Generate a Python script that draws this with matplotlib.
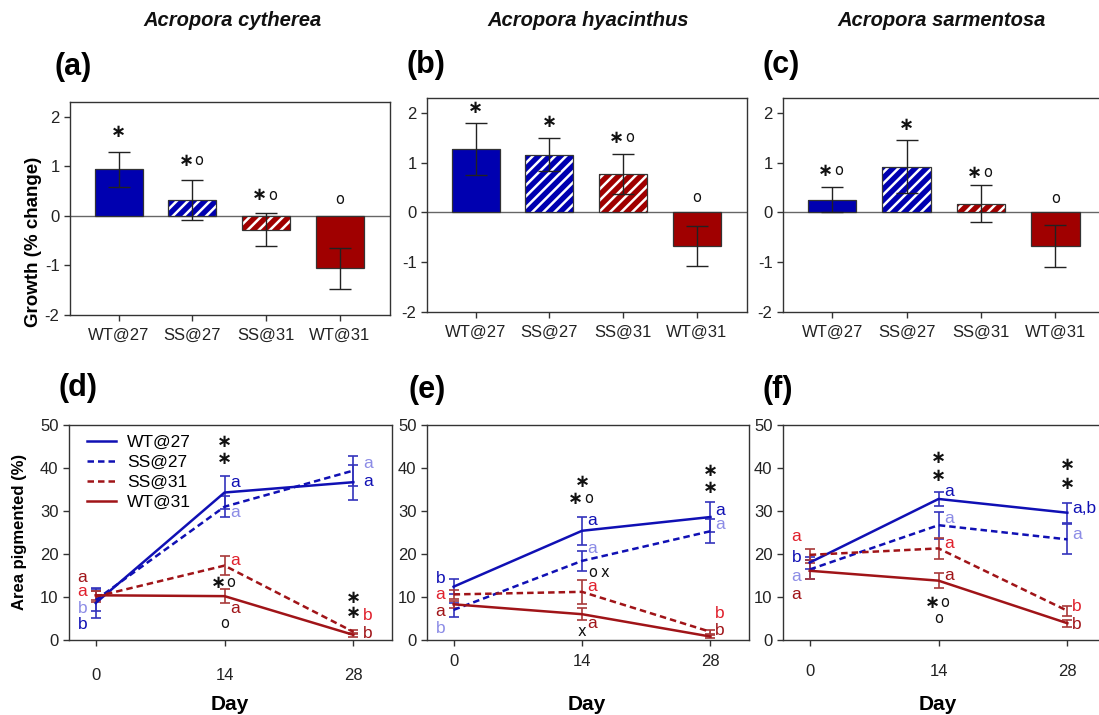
import numpy as np
import matplotlib
matplotlib.use("Agg")
import matplotlib.pyplot as plt

# Data
groups = ["WT@27", "SS@27", "SS@31", "WT@31"]
days = [0, 14, 28]

# growth (% change), mean and error per group
growth_cyt = [0.94, 0.32, -0.28, -1.06]
growth_cyt_err = [0.36, 0.41, 0.33, 0.41]
growth_hya = [1.28, 1.16, 0.77, -0.67]
growth_hya_err = [0.52, 0.33, 0.40, 0.40]
growth_sar = [0.26, 0.92, 0.18, -0.68]
growth_sar_err = [0.26, 0.53, 0.38, 0.42]

growth_cyt_marks = ["∗", "∗o", "∗o", "o"]
growth_cyt_mark_y = [1.70, 1.11, 0.42, 0.34]
growth_hya_marks = ["∗", "∗", "∗o", "o"]
growth_hya_mark_y = [2.10, 1.81, 1.50, 0.31]
growth_sar_marks = ["∗o", "∗", "∗o", "o"]
growth_sar_mark_y = [0.84, 1.76, 0.80, 0.28]

# area pigmented (%) per group (WT@27, SS@27, SS@31, WT@31) over days
cyt_area = [[8.6, 34.3, 36.7], [9.3, 31.0, 39.4], [10.1, 17.3, 1.9], [10.4, 10.2, 1.2]]
cyt_area_err = [[3.4, 3.8, 4.1], [2.5, 2.5, 3.5], [1.3, 2.2, 0.5], [1.0, 1.6, 0.5]]
hya_area = [[12.4, 25.4, 28.6], [7.0, 18.4, 25.3], [10.6, 11.2, 1.9], [8.3, 6.0, 0.8]]
hya_area_err = [[1.8, 3.3, 3.4], [1.6, 2.3, 2.8], [1.0, 2.8, 0.5], [0.8, 1.4, 0.4]]
sar_area = [[18.0, 32.8, 29.6], [16.4, 26.7, 23.4], [19.8, 21.3, 6.8], [16.1, 13.8, 3.9]]
sar_area_err = [[1.4, 1.6, 2.3], [2.2, 3.1, 3.5], [1.3, 2.4, 1.2], [1.8, 1.7, 0.8]]

# significance letters and where they sit
cyt_letters = [["b", "a", "a"], ["b", "a", "a"], ["a", "a", "b"], ["a", "a", "b"]]
cyt_letter_y = [[3.5, 36.6, 36.8], [7.4, 29.6, 41.0], [11.2, 18.4, 5.8], [14.6, 7.4, 1.5]]
hya_letters = [["b", "a", "a"], ["b", "a", "a"], ["a", "a", "b"], ["a", "a", "b"]]
hya_letter_y = [[14.3, 27.8, 30.1], [2.7, 21.2, 26.9], [10.5, 12.4, 6.2], [6.6, 3.9, 2.2]]
sar_letters = [["b", "a", "a,b"], ["a", "a", "a"], ["a", "a", "b"], ["a", "a", "b"]]
sar_letter_y = [[19.2, 34.5, 30.6], [14.7, 28.3, 24.6], [24.0, 22.5, 7.8], [10.6, 15.1, 3.5]]

# other marks on the line panels
cyt_marks = ["∗", "∗", "∗o", "o", "∗", "∗"]
cyt_mark_day = [14, 14, 14, 14, 28, 28]
cyt_mark_y = [46.0, 42.0, 13.3, 3.9, 9.8, 6.2]
hya_marks = ["∗", "∗o", "ox", "x", "∗", "∗"]
hya_mark_day = [14, 14, 15.8, 14, 28, 28]
hya_mark_y = [36.8, 32.9, 15.7, 1.9, 39.4, 35.4]
sar_marks = ["∗", "∗", "∗o", "o", "∗", "∗"]
sar_mark_day = [14, 14, 14, 14, 28, 28]
sar_mark_y = [42.4, 38.1, 8.7, 5.0, 40.7, 36.3]

BLUE = "#0000B0"
RED = "#A00000"
LINE_BLUE = "#1010B4"
LINE_RED = "#A01418"
ERR_BLUE = "#3434BC"
ERR_RED = "#A83A3A"
letter_colors = ["#1010B4", "#8C8CE6", "#E0202C", "#A01418"]
line_colors = [LINE_BLUE, LINE_BLUE, LINE_RED, LINE_RED]
err_colors = [ERR_BLUE, ERR_BLUE, ERR_RED, ERR_RED]
line_styles = ["-", (0, (2.6, 1.6)), (0, (2.6, 1.6)), "-"]
SPINE = "#333333"

plt.rcParams["font.family"] = ["Liberation Sans", "DejaVu Sans"]
plt.rcParams["axes.unicode_minus"] = False
plt.rcParams["hatch.linewidth"] = 1.8

W, H = 1099, 715
fig = plt.figure(figsize=(W / 100, H / 100), dpi=100)


def add_ax(l, t, r, b):
    return fig.add_axes([l / W, 1 - b / H, (r - l) / W, (b - t) / H])


def style_axes(ax):
    for s in ax.spines.values():
        s.set_color(SPINE)
        s.set_linewidth(1.0)
    ax.tick_params(direction="out", length=4, width=1, color=SPINE,
                   labelsize=12, labelcolor="#222222")


def draw_mark(ax, x, y, s):
    # each symbol on its own so the asterisk and circle line up
    n = len(s)
    for k, ch in enumerate(s):
        dx = (k - (n - 1) / 2) * 9
        ax.annotate(ch, (x, y), xytext=(dx, 0), textcoords="offset points",
                    ha="center", va="center", family="DejaVu Sans",
                    fontsize=13 if ch == "∗" else 10.5,
                    fontweight="semibold" if ch == "∗" else "normal",
                    color="#111111")


def bar_panel(ax, vals, errs, marks, mark_y):
    x = np.arange(len(groups))
    for i, g in enumerate(groups):
        fc = BLUE if g.endswith("27") else RED
        if g.startswith("SS"):
            ax.bar(x[i], vals[i], width=0.65, color=fc, edgecolor="white",
                   hatch="///", linewidth=0, zorder=2)
        else:
            ax.bar(x[i], vals[i], width=0.65, color=fc, linewidth=0, zorder=2)
    ax.bar(x, vals, width=0.65, facecolor="none", edgecolor="#333333",
           linewidth=0.9, zorder=3)
    ax.errorbar(x, vals, yerr=errs, fmt="none", ecolor="#222222",
                elinewidth=1.0, capsize=8, capthick=1.0, zorder=4)
    ax.axhline(0, color="#666666", lw=1.0, zorder=1.5)
    for i in range(len(groups)):
        draw_mark(ax, x[i], mark_y[i], marks[i])
    ax.set_xlim(-0.66, 3.68)
    ax.set_ylim(-2, 2.3)
    ax.set_yticks([-2, -1, 0, 1, 2])
    ax.set_xticks(x)
    ax.set_xticklabels(groups)
    style_axes(ax)
    ax.tick_params(axis="x", pad=5)


def line_panel(ax, area, err, letters, letter_y, marks, mark_day, mark_y,
               xpad, end_off):
    for i, g in enumerate(groups):
        ax.plot(days, area[i], color=line_colors[i], linestyle=line_styles[i],
                lw=1.8, label=g, zorder=3)
        ax.errorbar(days, area[i], yerr=err[i], fmt="none", ecolor=err_colors[i],
                    elinewidth=1.2, capsize=3.5, capthick=1.2, zorder=2)
        for j, d in enumerate(days):
            if d == 0:
                ax.text(d - 0.9, letter_y[i][j], letters[i][j], ha="right",
                        va="center", fontsize=12.5, color=letter_colors[i])
            else:
                off = 0.6 if d == 14 else end_off
                ax.text(d + off, letter_y[i][j], letters[i][j], ha="left",
                        va="center", fontsize=12.5, color=letter_colors[i])
    for t, d, y in zip(marks, mark_day, mark_y):
        draw_mark(ax, d, y, t)
    ax.set_xlim(-2.9, 32.2)
    ax.set_ylim(0, 50)
    ax.set_xticks(days)
    ax.set_yticks([0, 10, 20, 30, 40, 50])
    style_axes(ax)
    ax.tick_params(axis="x", pad=xpad)


ax_a = add_ax(70, 102, 390, 315)
ax_b = add_ax(427, 98, 747, 312)
ax_c = add_ax(783, 98, 1106, 312)
ax_d = add_ax(69, 425, 392, 640)
ax_e = add_ax(427, 425, 749, 640)
ax_f = add_ax(783, 425, 1106, 640)

bar_panel(ax_a, growth_cyt, growth_cyt_err, growth_cyt_marks, growth_cyt_mark_y)
bar_panel(ax_b, growth_hya, growth_hya_err, growth_hya_marks, growth_hya_mark_y)
bar_panel(ax_c, growth_sar, growth_sar_err, growth_sar_marks, growth_sar_mark_y)

line_panel(ax_d, cyt_area, cyt_area_err, cyt_letters, cyt_letter_y,
           cyt_marks, cyt_mark_day, cyt_mark_y, 16, 1.05)
line_panel(ax_e, hya_area, hya_area_err, hya_letters, hya_letter_y,
           hya_marks, hya_mark_day, hya_mark_y, 6, 0.5)
line_panel(ax_f, sar_area, sar_area_err, sar_letters, sar_letter_y,
           sar_marks, sar_mark_day, sar_mark_y, 13, 0.5)

ax_d.legend(loc="upper left", bbox_to_anchor=(0.055, 0.955), frameon=False,
            fontsize=12.5, handlelength=1.7, handletextpad=0.6, labelspacing=0.28,
            borderpad=0, borderaxespad=0)


def ftext(x, y, s, **kw):
    fig.text(x / W, 1 - y / H, s, **kw)


# species titles
for x, s in [(233, "Acropora cytherea"), (588, "Acropora hyacinthus"),
             (942, "Acropora sarmentosa")]:
    ftext(x, 20, s, ha="center", va="center", fontsize=14.5,
          fontweight="bold", fontstyle="italic", color="#111111")

# panel letters
for x, y, s in [(55, 67, "(a)"), (407, 65, "(b)"), (762, 65, "(c)"),
                (58, 388, "(d)"), (408, 390, "(e)"), (763, 390, "(f)")]:
    ftext(x, y, s, ha="left", va="center", fontsize=22, fontweight="bold")

ftext(34, 242, "Growth (% change)", ha="center", va="center", rotation=90,
      fontsize=13.5, fontweight="bold")
ftext(20, 532, "Area pigmented (%)", ha="center", va="center", rotation=90,
      fontsize=12, fontweight="bold")
for x in [230, 587, 938]:
    ftext(x, 704, "Day", ha="center", va="center", fontsize=15,
          fontweight="bold")

fig.savefig("out.png", dpi=100)
